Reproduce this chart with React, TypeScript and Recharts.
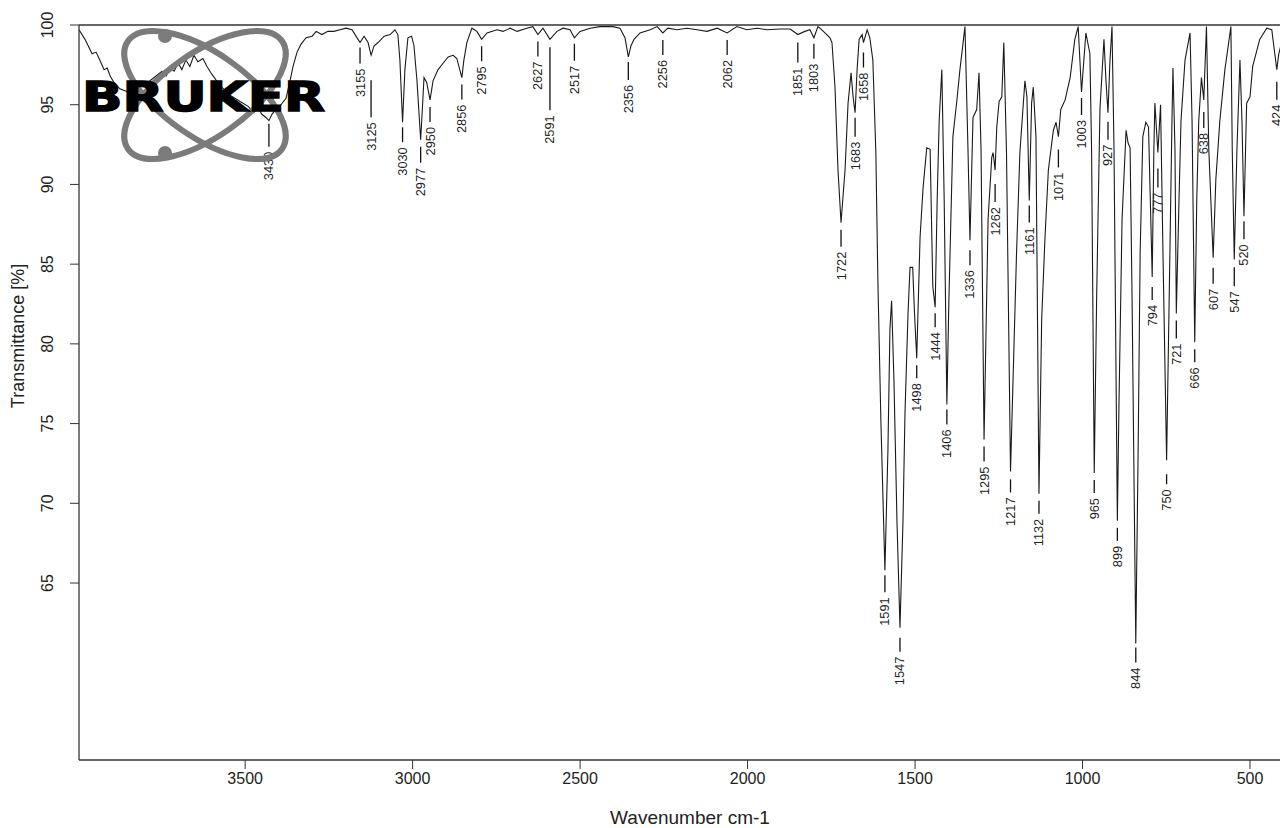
import { ComposedChart, Line, Scatter, XAxis, YAxis, ReferenceLine, Label } from 'recharts';

// Spectrum: [wavenumber cm-1, transmittance %]
const SPECTRUM_OH_CH: [number, number][] = [
  [3996, 99.7], [3978, 99.1], [3957, 98.2], [3945, 98.3], [3936, 97.9], [3921, 97.2], [3912, 97.3],
  [3903, 96.8], [3892, 96.4], [3874, 96.0], [3850, 95.8], [3829, 95.9], [3808, 96.2], [3784, 96.5],
  [3766, 96.8], [3748, 97.1], [3736, 96.8], [3724, 97.3], [3712, 97.1], [3700, 97.6], [3689, 97.2],
  [3677, 97.8], [3665, 97.4], [3653, 98.1], [3641, 97.7], [3626, 97.9], [3614, 97.4], [3599, 96.9],
  [3575, 96.2], [3545, 95.6], [3515, 95.2], [3491, 94.9], [3474, 94.5], [3462, 94.8], [3450, 94.4],
  [3438, 94.2], [3429, 94.0], [3420, 94.4], [3408, 94.7], [3393, 95.0], [3378, 95.4], [3366, 96.5],
  [3357, 97.4], [3345, 98.3], [3333, 98.8], [3318, 99.2], [3300, 99.3], [3288, 99.6], [3271, 99.4],
  [3253, 99.6], [3235, 99.6], [3217, 99.7], [3199, 99.8], [3181, 99.7], [3169, 99.3], [3157, 98.9],
  [3145, 99.3], [3133, 98.9], [3124, 98.1], [3115, 98.7], [3103, 98.9], [3085, 99.3], [3067, 99.4],
  [3053, 99.7], [3044, 99.4], [3038, 97.8], [3030, 93.9], [3023, 97.2], [3014, 99.2], [3003, 99.3],
  [2996, 98.7], [2987, 96.5], [2976, 92.8], [2971, 94.7], [2966, 96.7], [2958, 96.4], [2948, 95.3],
  [2939, 96.5], [2924, 97.2], [2909, 97.6], [2894, 98.0], [2879, 98.1], [2868, 97.9], [2853, 96.7],
  [2847, 97.8], [2838, 98.9], [2823, 99.8], [2808, 99.6],
];

const SPECTRUM_MID: [number, number][] = [
  [2794, 99.1], [2778, 99.5], [2748, 99.7], [2730, 99.6], [2709, 99.8], [2688, 99.6], [2659, 99.8],
  [2641, 99.9], [2626, 99.4], [2611, 99.8], [2590, 99.1], [2569, 99.6], [2551, 99.8], [2530, 99.7],
  [2517, 99.2], [2500, 99.6], [2470, 99.8], [2441, 99.9], [2402, 99.9], [2381, 99.8], [2366, 99.2],
  [2356, 98.0], [2348, 98.7], [2339, 99.1], [2321, 99.5], [2291, 99.7], [2270, 99.9], [2253, 99.5],
  [2238, 99.8], [2211, 99.7], [2181, 99.8], [2151, 99.7], [2121, 99.6], [2091, 99.8], [2061, 99.5],
  [2032, 99.9], [2002, 99.7], [1972, 99.8], [1942, 99.7], [1903, 99.75], [1873, 99.75], [1850, 99.4],
  [1829, 99.6], [1814, 99.7], [1802, 99.2], [1790, 99.9], [1784, 99.8], [1769, 99.5], [1754, 99.2],
];

const SPECTRUM_DOUBLE_BOND: [number, number][] = [
  [1748, 98.9], [1739, 96.1], [1730, 90.9], [1721, 87.6], [1709, 90.9], [1700, 95.1], [1691, 97.0],
  [1685, 95.5], [1679, 94.5], [1673, 97.2], [1667, 99.1], [1658, 99.4], [1654, 98.9], [1643, 99.7],
  [1635, 99.2], [1626, 97.8], [1617, 92.0], [1611, 84.0], [1602, 75.2], [1590, 65.8], [1581, 73.3],
  [1575, 80.9], [1570, 82.7], [1563, 77.7], [1554, 68.9], [1545, 62.2], [1536, 68.9], [1530, 75.7],
  [1521, 81.9], [1515, 84.8], [1507, 84.8], [1502, 82.1], [1495, 79.1], [1485, 86.7], [1476, 89.8],
  [1465, 92.3], [1455, 92.2], [1447, 83.6], [1440, 82.3], [1434, 89.0], [1428, 94.0], [1420, 97.2],
  [1413, 89.0], [1405, 76.2], [1399, 82.7], [1387, 93.0], [1375, 95.3], [1366, 97.2], [1351, 99.9],
  [1342, 92.2], [1336, 86.5], [1327, 94.2], [1316, 94.7], [1309, 97.0], [1303, 92.2],
];

const SPECTRUM_FINGERPRINT: [number, number][] = [
  [1294, 74.0], [1282, 87.8], [1271, 91.7], [1267, 92.0], [1261, 90.9], [1256, 93.6], [1249, 95.2],
  [1241, 95.5], [1235, 98.9], [1227, 92.0], [1215, 72.0], [1197, 85.7], [1187, 92.0], [1172, 96.5],
  [1166, 95.5], [1159, 89.0], [1152, 95.1], [1147, 96.1], [1139, 93.0], [1130, 70.6], [1122, 81.5],
  [1112, 86.7], [1102, 90.9], [1087, 93.4], [1079, 93.9], [1072, 93.0], [1065, 94.7], [1052, 95.3],
  [1037, 96.7], [1023, 99.1], [1013, 99.9], [1003, 95.8], [990, 99.5], [978, 98.2], [973, 92.2],
  [965, 71.9], [958, 82.7], [948, 94.7], [936, 99.1], [930, 96.5], [924, 94.5], [918, 97.8],
  [912, 99.9], [906, 92.2], [896, 68.9], [891, 76.5], [882, 87.8], [870, 93.4], [864, 92.6],
  [858, 92.3], [852, 82.7], [841, 61.2], [834, 73.3], [828, 85.7], [820, 93.0], [811, 93.9],
  [803, 93.6], [792, 84.2], [787, 92.2], [784, 95.1], [775, 92.0], [767, 95.0], [760, 85.9],
  [749, 72.7], [739, 85.9], [733, 94.0], [730, 97.3], [724, 92.2], [720, 81.9], [712, 89.0],
  [706, 94.0], [694, 97.8], [679, 99.5], [673, 94.0], [665, 80.1], [659, 89.0], [653, 94.0],
  [645, 96.7], [638, 95.3], [630, 99.9], [623, 92.2], [610, 85.4], [602, 90.3], [590, 94.0],
  [575, 97.2], [557, 99.9], [553, 92.2], [547, 85.3], [539, 92.2], [530, 97.8], [524, 94.0],
  [518, 88.0], [510, 95.1], [500, 95.5], [492, 97.4], [471, 99.1], [450, 99.8], [435, 99.7],
  [426, 98.2], [420, 97.2], [414, 98.2], [408, 98.7], [402, 98.9], [400, 99.0],
];

// Peak picks
const PEAK_LABELS = [
  '3430', '3155', '3125', '3030', '2977', '2950', '2856', '2795', '2627', '2591', '2517', '2356',
  '2256', '2062', '1851', '1803', '1722', '1683', '1658', '1591', '1547', '1498', '1444', '1406',
  '1336', '1295', '1262', '1217', '1161', '1132', '1071', '1003', '965', '927', '899', '844',
  '794', '777', '750', '721', '666', '638', '607', '547', '520', '424',
];
const PEAK_POSITIONS = [
  3429, 3157, 3124, 3030, 2976, 2948, 2853, 2794, 2626, 2590, 2517, 2356,
  2253, 2061, 1850, 1802, 1721, 1679, 1654, 1590, 1545, 1495, 1440, 1405,
  1336, 1294, 1261, 1215, 1159, 1130, 1072, 1003, 965, 924, 896, 841,
  792, 775, 749, 720, 665, 638, 610, 547, 518, 420,
];
const PEAK_TRANSMITTANCE = [
  94.0, 98.9, 98.1, 93.9, 92.8, 95.3, 96.7, 99.1, 99.4, 99.1, 99.2, 98.0,
  99.5, 99.5, 99.4, 99.2, 87.6, 94.5, 98.9, 65.8, 62.2, 79.1, 82.3, 76.2,
  86.5, 74.0, 90.9, 72.0, 89.0, 70.6, 93.0, 95.8, 71.9, 94.5, 68.9, 61.2,
  84.2, 92.0, 72.7, 81.9, 80.1, 95.3, 85.4, 85.3, 88.0, 97.2,
];

const X_TICKS = [3500, 3000, 2500, 2000, 1500, 1000, 500];
const Y_TICKS = [65, 70, 75, 80, 85, 90, 95, 100];

// leader layout per peak label: [gap below peak, leader length] in px
const LEADS: Record<string, [number, number]> = {
  '3430': [3, 23], '3155': [5, 16], '3125': [25, 37], '3030': [5, 15], '2977': [7, 16],
  '2950': [7, 15], '2856': [7, 15], '2795': [7, 15], '2627': [7, 15], '2591': [8, 63],
  '2517': [6, 17], '2356': [5, 18], '2256': [7, 15], '2062': [7, 15], '1851': [8, 20],
  '1803': [6, 15], '1722': [7, 17], '1683': [5, 19], '1658': [10, 15], '1591': [5, 17],
  '1547': [10, 14], '1498': [7, 13], '1444': [6, 14], '1406': [5, 15], '1336': [10, 15],
  '1295': [7, 15], '1262': [14, 18], '1217': [8, 13], '1161': [5, 17], '1132': [7, 13],
  '1071': [13, 18], '1003': [6, 17], '965': [7, 13], '927': [9, 18], '899': [7, 13],
  '844': [4, 15], '794': [10, 13], '777': [16, 19], '750': [14, 10], '721': [7, 18],
  '666': [7, 13], '638': [12, 16], '607': [10, 16], '547': [8, 19], '520': [5, 18],
  '424': [12, 18],
};

const FONT = '"Liberation Sans", Arial, Helvetica, sans-serif';
const INK = '#222';

const spectrum = [...SPECTRUM_OH_CH, ...SPECTRUM_MID, ...SPECTRUM_DOUBLE_BOND, ...SPECTRUM_FINGERPRINT]
  .map(([w, T]) => ({ w, T }));

const peaks = PEAK_LABELS.map((label, i) => ({
  label,
  w: PEAK_POSITIONS[i],
  T: PEAK_TRANSMITTANCE[i],
}));

const PeakMarker = (props: any) => {
  const { cx, cy, payload } = props;
  if (cx == null || cy == null) return null;
  const [gap, len] = LEADS[payload.label] ?? [7, 15];
  const y1 = cy + gap;
  const y2 = y1 + len;
  const ty = y2 + 5;
  return (
    <g>
      <line x1={cx} x2={cx} y1={y1} y2={y2} stroke="#111" strokeWidth={1.3} />
      <text
        x={cx}
        y={ty}
        transform={`rotate(-90 ${cx} ${ty})`}
        textAnchor="end"
        dominantBaseline="central"
        fontSize={12.8}
        fontFamily={FONT}
        fill={INK}
      >
        {payload.label}
      </text>
    </g>
  );
};

const YTick = ({ x, y, payload }: any) => {
  const bx = x - 15;
  return (
    <text
      x={bx}
      y={y}
      transform={`rotate(-90 ${bx} ${y})`}
      textAnchor="middle"
      fontSize={16}
      fontFamily={FONT}
      fill={INK}
    >
      {payload.value}
    </text>
  );
};

const BrukerLogo = () => (
  <svg width={400} height={200} style={{ position: 'absolute', left: 0, top: 0, pointerEvents: 'none' }}>
    <g fill="none" stroke="#7b7b7b" strokeWidth={6}>
      <ellipse cx={205} cy={95} rx={94} ry={42} transform="rotate(35 205 95)" />
      <ellipse cx={205} cy={95} rx={94} ry={42} transform="rotate(-35 205 95)" />
    </g>
    <circle cx={165} cy={36} r={7} fill="#7b7b7b" />
    <circle cx={165} cy={153} r={7} fill="#7b7b7b" />
    <text
      x={82}
      y={111}
      fontFamily='"DejaVu Sans", sans-serif'
      fontWeight="bold"
      fontSize={40}
      textLength={243}
      lengthAdjust="spacingAndGlyphs"
      fill="#000"
      stroke="#000"
      strokeWidth={1.5}
    >
      BRUKER
    </text>
  </svg>
);

export default function App() {
  return (
    <div
      style={{
        position: 'absolute',
        left: 0,
        top: 0,
        width: 1280,
        height: 828,
        overflow: 'hidden',
        background: '#fff',
      }}
    >
      <ComposedChart width={1300} height={828} margin={{ top: 25, right: 16.5, bottom: 28, left: 29 }}>
        <XAxis
          type="number"
          dataKey="w"
          domain={[400, 3996]}
          reversed
          allowDataOverflow
          ticks={X_TICKS}
          tickSize={9}
          height={40}
          axisLine={{ stroke: '#333', strokeWidth: 1.3 }}
          tickLine={{ stroke: '#333' }}
          tick={{ fontSize: 16, fontFamily: FONT, fill: INK, dy: 2 }}
        >
          <Label
            content={() => (
              <text x={690} y={817} textAnchor="middle" dominantBaseline="central" fontSize={19} fontFamily={FONT} fill={INK}>
                Wavenumber cm-1
              </text>
            )}
          />
        </XAxis>
        <YAxis
          type="number"
          domain={[53.9, 100]}
          allowDataOverflow
          ticks={Y_TICKS}
          tickSize={9}
          width={50}
          axisLine={{ stroke: '#333', strokeWidth: 1.3 }}
          tickLine={{ stroke: '#333' }}
          tick={<YTick />}
        >
          <Label
            content={() => (
              <text
                x={18}
                y={336}
                transform="rotate(-90 18 336)"
                textAnchor="middle"
                dominantBaseline="central"
                fontSize={18}
                fontFamily={FONT}
                fill={INK}
              >
                Transmittance [%]
              </text>
            )}
          />
        </YAxis>
        <ReferenceLine y={100} stroke="#333" strokeWidth={1.3} />
        <Line
          data={spectrum}
          dataKey="T"
          type="linear"
          stroke="#1a1a1a"
          strokeWidth={1.1}
          dot={false}
          activeDot={false}
          isAnimationActive={false}
        />
        <Scatter data={peaks} dataKey="T" shape={<PeakMarker />} isAnimationActive={false} />
      </ComposedChart>
      <BrukerLogo />
    </div>
  );
}
